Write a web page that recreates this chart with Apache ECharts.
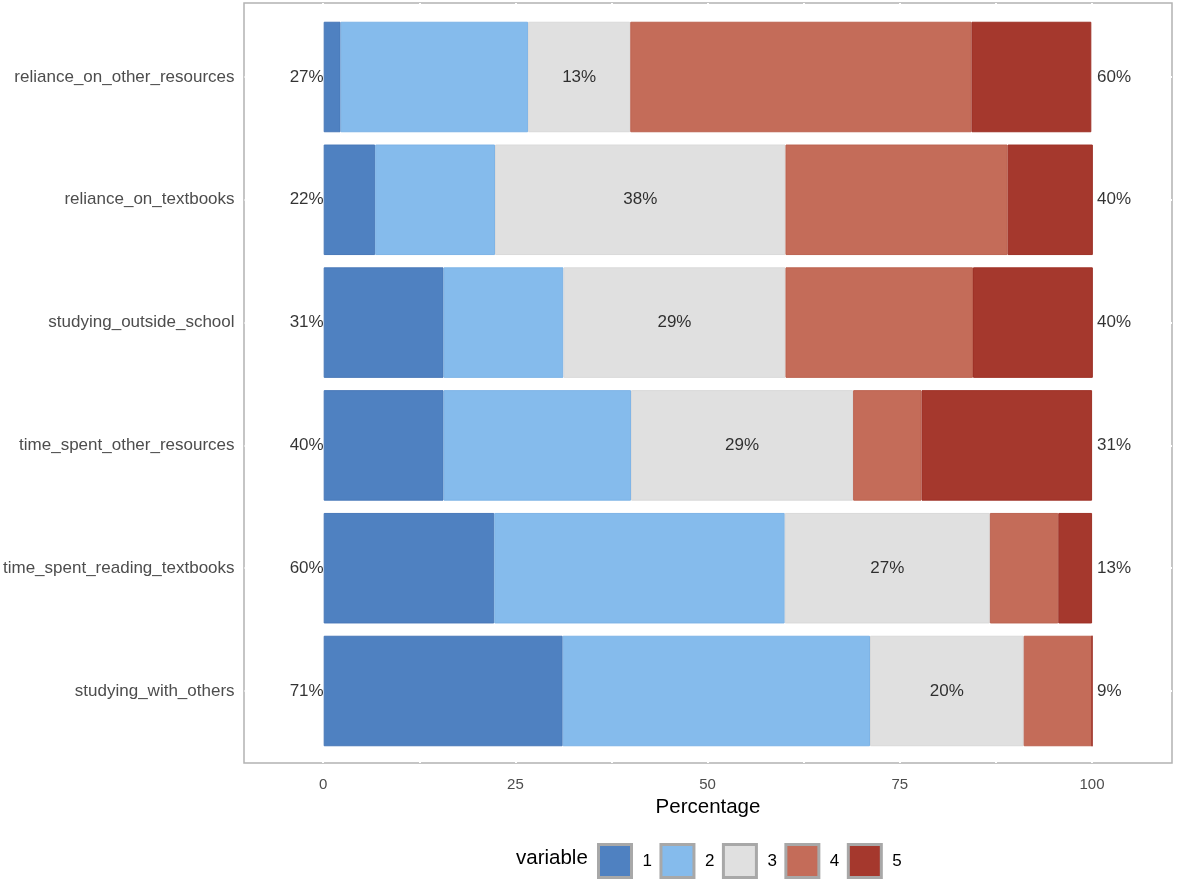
<!DOCTYPE html>
<html><head><meta charset="utf-8">
<script src="https://cdn.jsdelivr.net/npm/echarts@6/dist/echarts.min.js"></script>
<style>html,body{margin:0;padding:0;background:#fff}#c{width:1177px;height:883px}</style>
</head><body><div id="c"></div>
<script>
var categories = ['reliance_on_other_resources','reliance_on_textbooks','studying_outside_school','time_spent_other_resources','time_spent_reading_textbooks','studying_with_others'];
var s1 = [2.2, 6.7, 15.6, 15.6, 22.2, 31.1];
var s2 = [24.4, 15.6, 15.6, 24.4, 37.8, 40.0];
var s3 = [13.3, 37.8, 28.9, 28.9, 26.7, 20.0];
var s4 = [44.4, 28.9, 24.4, 8.9, 8.9, 8.9];
var s5 = [15.6, 11.1, 15.6, 22.2, 4.4, 0];
var levelNames = ['1','2','3','4','5'];
var xTicks = [0, 25, 50, 75, 100];
var xGridLines = [0, 12.5, 25, 37.5, 50, 62.5, 75, 87.5, 100];

var colors = ['#4F81C1','#85BBEC','#E0E0E0','#C46C59','#A5382D'];
var borders = ['#4878B8','#7DB3E6','#D9D9D9','#BC6351','#9E3126'];
var FONT = 'Liberation Sans, Arial, Helvetica, sans-serif';
var XMIN = -10.3, XMAX = 110.4;

var segs = [s1,s2,s3,s4,s5];
var series = segs.map(function(d,i){
  return {name: levelNames[i], type:'bar', stack:'t', xAxisIndex:0, yAxisIndex:0,
    data:d, barCategoryGap:'10%', silent:true,
    itemStyle:{color:colors[i], borderColor:borders[i], borderWidth:1}};
});
var lowData = categories.map(function(c,i){ return {value:[0, c], lab: Math.round(s1[i]+s2[i])+'%'}; });
var midData = categories.map(function(c,i){ return {value:[s1[i]+s2[i]+s3[i]/2, c], lab: Math.round(s3[i])+'%'}; });
var highData = categories.map(function(c,i){ return {value:[100, c], lab: Math.round(s4[i]+s5[i])+'%'}; });
function labSeries(data, pos, dist){
  return {type:'scatter', xAxisIndex:0, yAxisIndex:0, symbolSize:0, data:data, silent:true, z:5,
    label:{show:true, position:pos, distance:dist, color:'#000', fontSize:17, fontFamily:FONT,
      formatter:function(p){return p.data.lab;}}};
}
series.push(labSeries(lowData,'left',0));
series.push(labSeries(midData,'inside',0));
series.push(labSeries(highData,'right',5));

var chart = echarts.init(document.getElementById('c'));
chart.setOption({
  animation:false,
  backgroundColor:'#fff',
  grid:[
    {left:244, right:5, top:15.6, bottom:883-752.4, show:false},
    {left:244, right:5, top:3, bottom:120, show:true, borderColor:'#B3B3B3', borderWidth:1.5, backgroundColor:'transparent'}
  ],
  xAxis:[
    {gridIndex:0, type:'value', min:XMIN, max:XMAX, show:false},
    {gridIndex:1, type:'value', min:XMIN, max:XMAX, position:'bottom', z:5,
      axisLine:{show:false, onZero:false}, splitLine:{show:false},
      axisTick:{show:true, inside:true, length:3, customValues:xGridLines, lineStyle:{color:'#fff', width:2}},
      axisLabel:{customValues:xTicks, color:'#4D4D4D', fontSize:15, fontFamily:FONT, margin:14},
      name:'Percentage', nameLocation:'middle', nameGap:29,
      nameTextStyle:{color:'#000', fontSize:20.5, fontFamily:FONT}},
    {gridIndex:1, type:'value', min:XMIN, max:XMAX, position:'top', z:5,
      axisLine:{show:false, onZero:false}, splitLine:{show:false}, axisLabel:{show:false},
      axisTick:{show:true, inside:true, length:3, customValues:xGridLines, lineStyle:{color:'#fff', width:2}}}
  ],
  yAxis:[
    {gridIndex:0, type:'category', data:categories, inverse:true, position:'left', z:5,
      axisLine:{show:false, onZero:false}, splitLine:{show:false},
      axisTick:{show:true, inside:true, alignWithLabel:true, length:3, lineStyle:{color:'#fff', width:2}},
      axisLabel:{color:'#4D4D4D', fontSize:17, fontFamily:FONT, margin:10}},
    {gridIndex:1, type:'value', min:0, max:1, show:false},
    {gridIndex:0, type:'category', data:categories, inverse:true, position:'right', z:5,
      axisLine:{show:false, onZero:false}, splitLine:{show:false}, axisLabel:{show:false},
      axisTick:{show:true, inside:true, alignWithLabel:true, length:3, lineStyle:{color:'#fff', width:2}}}
  ],
  legend:{
    data:levelNames, left:597, top:843, padding:0, orient:'horizontal',
    itemWidth:33, itemHeight:33, itemGap:7.5, icon:'rect',
    itemStyle:{borderColor:'#A8A8A8', borderWidth:3},
    textStyle:{color:'#000', fontSize:17, fontFamily:FONT, padding:[0,0,0,6]},
    selectedMode:false
  },
  graphic:[{type:'text', left:516, top:848, style:{text:'variable', fill:'#000', font:'20.5px '+FONT}}],
  series:series
});
</script></body></html>
